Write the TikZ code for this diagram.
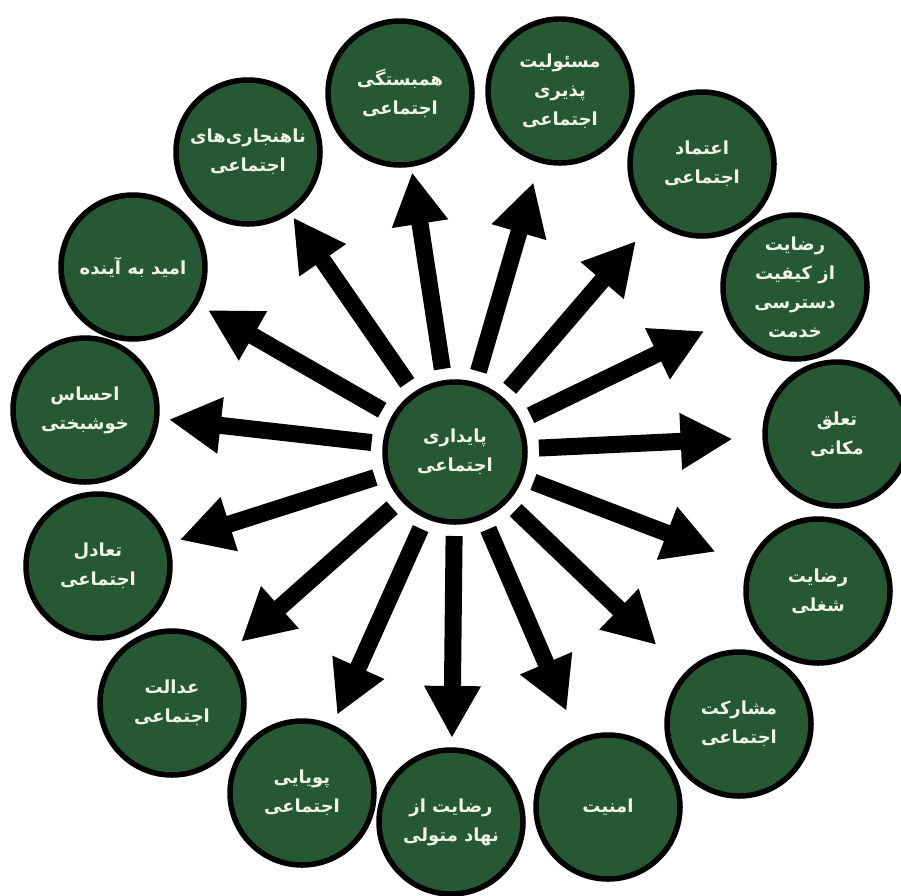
\documentclass[tikz,border=0pt]{standalone}
\usepackage{fontspec}
\usetikzlibrary{arrows.meta,calc}
\TeXXeTstate=1
\newfontfamily\arabicfont[Script=Arabic]{DejaVu Sans}
\newcommand\rtl[1]{\beginR #1\endR}
\definecolor{circgreen}{HTML}{275834}
\definecolor{txtwhite}{HTML}{EEF5E6}
\begin{document}
\begin{tikzpicture}[x=1pt,y=-1pt,
  bubble/.style={circle, draw=black, line width=5.5pt, fill=circgreen,
    minimum size=144pt, inner sep=0pt, text=txtwhite, align=center,
    font=\arabicfont\bfseries\fontsize{18}{29}\selectfont},
  hub/.style={bubble, minimum size=140pt},
  arr/.style={line width=17pt, black, -{Triangle[length=52pt,width=53pt]}}]
\useasboundingbox (0,0) rectangle (901,895);

\node[hub] (c) at (455,452) {\rtl{پایداری}\\\rtl{اجتماعی}};

\node[bubble] (o1) at (400,93) {\rtl{همبستگی}\\\rtl{اجتماعی}};
\node[bubble] (o2) at (560,91) {\rtl{مسئولیت}\\\rtl{پذیری}\\\rtl{اجتماعی}};
\node[bubble] (o3) at (702,164) {\rtl{اعتماد}\\\rtl{اجتماعی}};
\node[bubble] (o4) at (795,287) {\rtl{رضایت}\\\rtl{از کیفیت}\\\rtl{دسترسی}\\\rtl{خدمت}};
\node[bubble] (o5) at (837,434) {\rtl{تعلق}\\\rtl{مکانی}};
\node[bubble] (o6) at (818,591) {\rtl{رضایت}\\\rtl{شغلی}};
\node[bubble] (o7) at (739,724) {\rtl{مشارکت}\\\rtl{اجتماعی}};
\node[bubble] (o8) at (608,807) {\rtl{امنیت}};
\node[bubble] (o9) at (451,822) {\rtl{رضایت از}\\\rtl{نهاد متولی}};
\node[bubble] (o10) at (302,793) {\rtl{پویایی}\\\rtl{اجتماعی}};
\node[bubble] (o11) at (172,703) {\rtl{عدالت}\\\rtl{اجتماعی}};
\node[bubble] (o12) at (98,566) {\rtl{تعادل}\\\rtl{اجتماعی}};
\node[bubble] (o13) at (85,410) {\rtl{احساس}\\\rtl{خوشبختی}};
\node[bubble] (o14) at (133,267) {\rtl{امید به آینده}};
\node[bubble] (o15) at (248,152) {\rtl{ناهنجاری^^^^200cهای}\\\rtl{اجتماعی}};

\foreach \o/\t in {o1/283,o2/281,o3/278,o4/277,o5/278,o6/279,o7/279,o8/282,
                   o9/286,o10/288,o11/286,o12/289,o13/288,o14/285,o15/285}
  \draw[arr] ($(c)!84pt!(\o)$) -- ($(c)!\t pt!(\o)$);
\end{tikzpicture}
\end{document}
